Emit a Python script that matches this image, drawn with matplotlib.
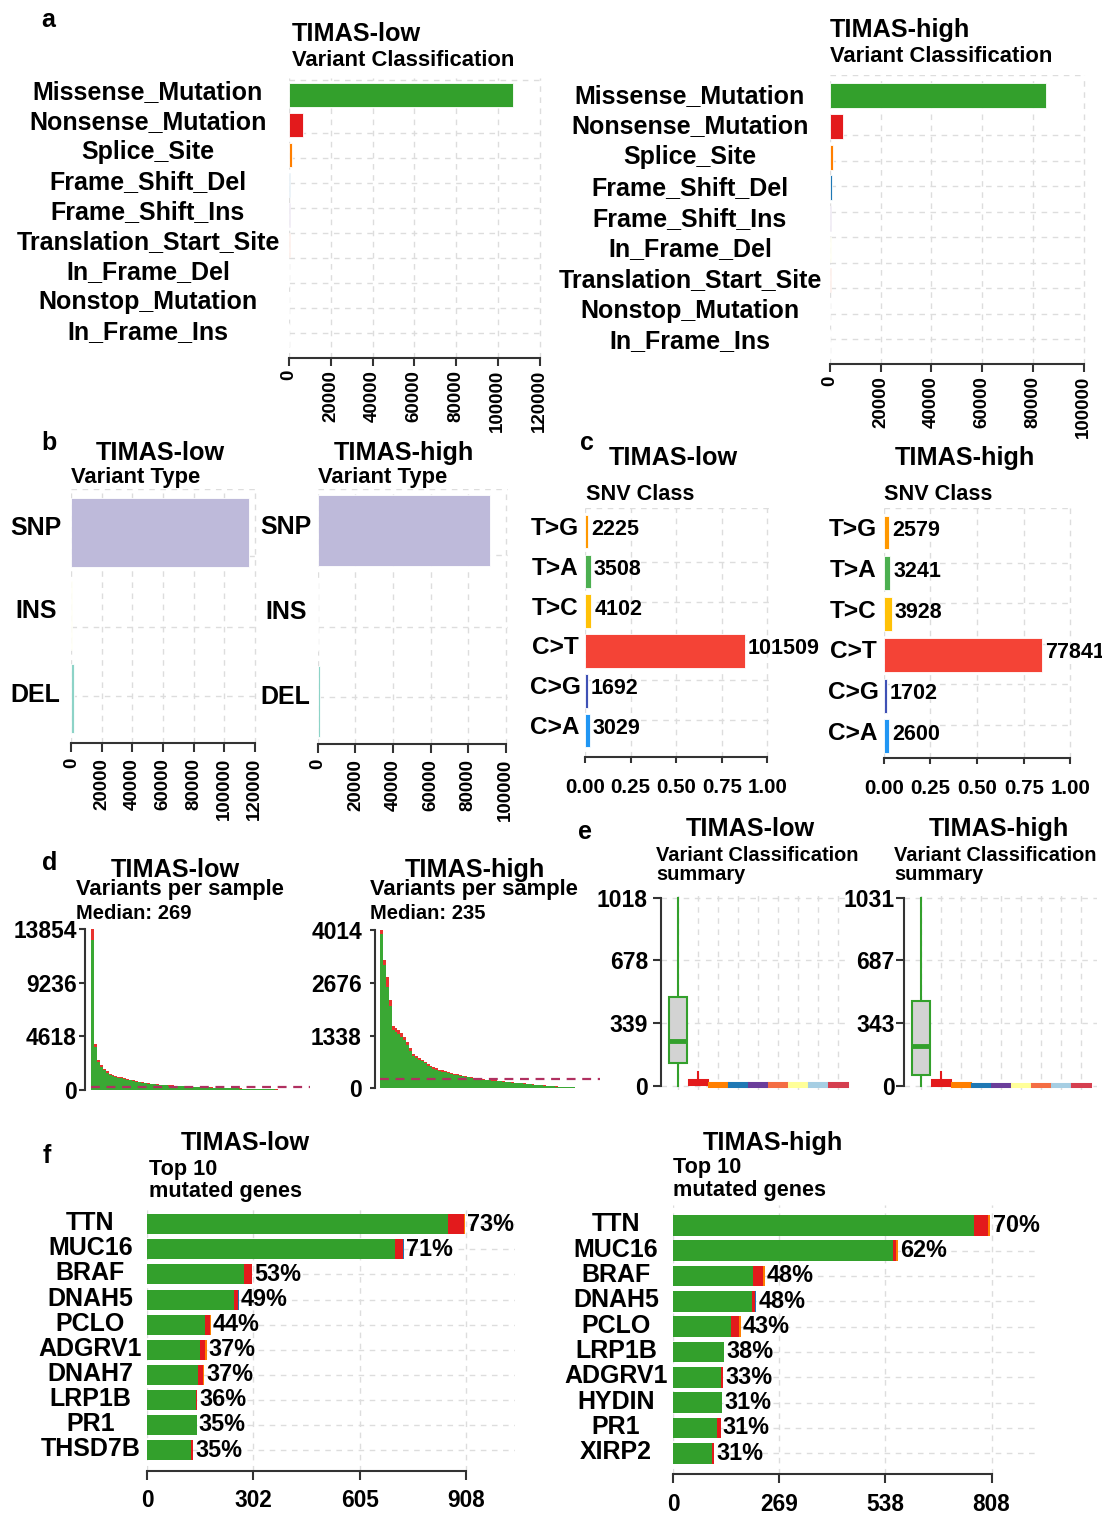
import matplotlib
matplotlib.use("Agg")
import matplotlib.pyplot as plt
import matplotlib.transforms as mtransforms
import numpy as np

plt.rcParams['font.family'] = ['Liberation Sans', 'DejaVu Sans']
plt.rcParams['font.weight'] = 'bold'

# - Data

# a: variant classification
vc_low = ["Missense_Mutation", "Nonsense_Mutation", "Splice_Site", "Frame_Shift_Del",
          "Frame_Shift_Ins", "Translation_Start_Site", "In_Frame_Del", "Nonstop_Mutation", "In_Frame_Ins"]
vc_low_counts = [107500, 6800, 1600, 700, 400, 300, 150, 80, 40]
vc_high = ["Missense_Mutation", "Nonsense_Mutation", "Splice_Site", "Frame_Shift_Del",
           "Frame_Shift_Ins", "In_Frame_Del", "Translation_Start_Site", "Nonstop_Mutation", "In_Frame_Ins"]
vc_high_counts = [85100, 5300, 1250, 600, 350, 250, 200, 90, 40]

# b: variant type
vt_types = ["SNP", "INS", "DEL"]
vt_low_counts = [116065, 300, 1400]
vt_high_counts = [91891, 300, 1300]

# c: SNV class
snv_classes = ["T>G", "T>A", "T>C", "C>T", "C>G", "C>A"]
snv_low_counts = [2225, 3508, 4102, 101509, 1692, 3029]
snv_high_counts = [2579, 3241, 3928, 77841, 1702, 2600]

# d: variants per sample (sorted), total and nonsense part
low_sample_total = [13854, 4000, 2600, 2150, 1850, 1600, 1420, 1320, 1230, 1150,
                    1080, 1000, 930, 880, 820, 760, 700, 650, 610, 580,
                    550, 520, 490, 470, 450, 430, 410, 390, 370, 355,
                    340, 325, 310, 295, 285, 275, 265, 255, 245, 235,
                    225, 215, 205, 195, 185, 178, 170, 160, 152, 145,
                    137, 128, 120, 112, 104, 96, 88, 80, 72, 64,
                    58, 52, 46, 40, 34, 0, 0, 30, 28, 26,
                    24, 22, 20, 18]
low_sample_nonsense = [900, 290, 170, 140, 120, 100, 90, 85, 80, 75,
                       70, 65, 60, 57, 53, 50, 46, 43, 40, 38,
                       36, 34, 32, 30, 29, 28, 27, 25, 24, 23,
                       22, 21, 20, 19, 18, 18, 17, 16, 16, 15,
                       14, 14, 13, 12, 12, 11, 11, 10, 10, 9,
                       9, 8, 8, 7, 7, 6, 6, 5, 5, 4,
                       4, 3, 3, 3, 2, 0, 0, 2, 2, 2,
                       1, 1, 1, 1]
high_sample_total = [4014, 3250, 2830, 2240, 1570, 1530, 1470, 1395, 1300, 1180,
                     1020, 880, 820, 765, 725, 670, 615, 570, 535, 505,
                     476, 453, 431, 408, 385, 368, 353, 338, 323, 308,
                     293, 277, 262, 250, 239, 231, 223, 216, 208, 200,
                     193, 185, 177, 170, 162, 154, 147, 139, 131, 124,
                     116, 108, 101, 94, 86, 79, 71, 65, 59, 53,
                     47, 42, 38, 34, 30, 25, 22, 19, 15, 11,
                     8, 6, 4]
high_sample_nonsense = [90, 120, 250, 150, 100, 95, 90, 85, 80, 75,
                        65, 55, 50, 47, 44, 41, 38, 35, 33, 31,
                        29, 28, 26, 25, 23, 22, 21, 20, 19, 18,
                        17, 16, 15, 15, 14, 14, 13, 13, 12, 12,
                        11, 11, 10, 10, 9, 9, 8, 8, 8, 7,
                        7, 6, 6, 5, 5, 5, 4, 4, 3, 3,
                        3, 3, 2, 2, 2, 1, 1, 1, 1, 1,
                        0, 0, 0]
median_low = 269
median_high = 235
vps_low_ticks = [0, 4618, 9236, 13854]
vps_high_ticks = [0, 1338, 2676, 4014]

# e: variant classification summary (box stats per class, same order as a)
box_low_q1 = [124, 8, 0, 0, 0, 0, 0, 0, 0]
box_low_med = [242, 18, 6, 5, 4, 4, 4, 4, 4]
box_low_q3 = [479, 33, 14, 12, 12, 12, 12, 12, 12]
box_low_hi = [1018, 72, 14, 12, 12, 12, 12, 12, 12]
box_low_lo = [0, 8, 0, 0, 0, 0, 0, 0, 0]
box_high_q1 = [58, 6, 0, 0, 0, 0, 0, 0, 0]
box_high_med = [217, 18, 6, 5, 4, 4, 4, 4, 4]
box_high_q3 = [464, 34, 14, 12, 12, 12, 12, 12, 12]
box_high_hi = [1031, 74, 14, 12, 12, 12, 12, 12, 12]
box_high_lo = [0, 6, 0, 0, 0, 0, 0, 0, 0]
box_low_ticks = [0, 339, 678, 1018]
box_high_ticks = [0, 343, 687, 1031]

# f: top 10 mutated genes
genes_low = ["TTN", "MUC16", "BRAF", "DNAH5", "PCLO", "ADGRV1", "DNAH7", "LRP1B", "PR1", "THSD7B"]
genes_low_missense = [857, 707, 276, 247, 166, 150, 146, 139, 141, 126]
genes_low_nonsense = [44, 21, 22, 12, 12, 16, 14, 4, 0, 6]
genes_low_splice = [4, 0, 2, 0, 4, 4, 2, 0, 0, 0]
genes_low_fsd = [0, 3, 0, 2, 0, 0, 0, 0, 0, 0]
genes_low_pct = [73, 71, 53, 49, 44, 37, 37, 36, 35, 35]
genes_low_ticks = [0, 302, 605, 908]
genes_high = ["TTN", "MUC16", "BRAF", "DNAH5", "PCLO", "LRP1B", "ADGRV1", "HYDIN", "PR1", "XIRP2"]
genes_high_missense = [763, 558, 203, 201, 146, 129, 121, 123, 111, 98]
genes_high_nonsense = [36, 8, 26, 7, 22, 1, 6, 1, 10, 7]
genes_high_splice = [4, 4, 3, 0, 3, 0, 0, 0, 0, 0]
genes_high_fsd = [2, 0, 0, 3, 0, 0, 0, 0, 0, 0]
genes_high_pct = [70, 62, 48, 48, 43, 38, 33, 31, 31, 31]
genes_high_ticks = [0, 269, 538, 808]

vc_colors = {"Missense_Mutation": "#33A02C", "Nonsense_Mutation": "#E31A1C", "Splice_Site": "#FF7F00",
             "Frame_Shift_Del": "#1F78B4", "Frame_Shift_Ins": "#6A3D9A", "In_Frame_Del": "#FFFF99",
             "In_Frame_Ins": "#D53E4F", "Translation_Start_Site": "#F46D43", "Nonstop_Mutation": "#A6CEE3"}
vt_colors = {"SNP": "#BEBADA", "INS": "#FFFFB3", "DEL": "#8DD3C7"}
snv_colors = {"T>G": "#FF9800", "T>A": "#4CAF50", "T>C": "#FFC107",
              "C>T": "#F44336", "C>G": "#3F51B5", "C>A": "#2196F3"}

# - Helpers

W, H = 1102, 1513
PT = 100 / 72.0
GRID = "#DDDDDD"
AXC = "#333333"

fig = plt.figure(figsize=(W / 100, H / 100), dpi=100)
fig.patch.set_facecolor("white")


def px_ax(l, t, r, b):
    return fig.add_axes([l / W, 1 - b / H, (r - l) / W, (b - t) / H])


def ftext(x, y, s, size, ha="left"):
    fig.text(x / W, 1 - y / H, s, fontsize=size, ha=ha, va="center", fontweight="bold")


def dashed(ax, vert, v):
    kw = dict(color=GRID, lw=1, ls=(0, (4, 4)), zorder=0)
    if vert:
        ax.axvline(v, **kw)
    else:
        ax.axhline(v, **kw)


def hbar_axes(zero, tick, tick_val, r, t, b, first, step):
    ax = px_ax(zero, t, r, b)
    s = (tick - zero) / tick_val
    ax.set_xlim(0, (r - zero) / s)
    ax.set_ylim((b - first) / step, (t - first) / step)
    for sp in ["top", "right", "left"]:
        ax.spines[sp].set_visible(False)
    ax.spines["bottom"].set_bounds(0, tick_val)
    ax.spines["bottom"].set_linewidth(1.5)
    ax.spines["bottom"].set_color(AXC)
    ax.set_yticks([])
    return ax


def row_labels(ax, labels, x_px, size, step, up_px=0):
    tr = mtransforms.blended_transform_factory(fig.transFigure, ax.transData)
    for i, lab in enumerate(labels):
        ax.text(x_px / W, i - up_px / step, lab, transform=tr, ha="center", va="center",
                fontsize=size, fontweight="bold", clip_on=False)


def x_ticks(ax, ticks, labels, size, length_px, pad_px, rotation=0):
    ax.set_xticks(ticks)
    ax.set_xticklabels(labels, rotation=rotation, fontsize=size, fontweight="bold")
    ax.tick_params(axis="x", length=length_px / PT, width=1.5, color=AXC, pad=pad_px / PT)


# - Panel a: variant classification

def panel_a(classes, counts, xmax, g):
    ax = hbar_axes(g["zero"], g["tick"], xmax, g["r"], g["t"], g["b"], g["first"], g["step"])
    rows = np.arange(len(classes))
    ax.barh(rows, counts, height=g["h"], color=[vc_colors[c] for c in classes],
            edgecolor="white", linewidth=0.6, zorder=2)
    ticks = np.arange(0, xmax + 1, 20000)
    for v in ticks:
        dashed(ax, True, v)
    for p in g["grid"]:
        dashed(ax, False, (p - g["first"]) / g["step"])
    x_ticks(ax, ticks, [str(v) for v in ticks], 13.5, 8, 4, rotation=90)
    row_labels(ax, classes, g["labx"], 18, g["step"], g["up"])


panel_a(vc_low, vc_low_counts, 120000,
        dict(zero=289, tick=539.5, r=542, t=78, b=358, first=95.3, step=30, h=0.8, labx=148, up=3,
             grid=[80, 133.3, 158.3, 183.3, 208.3, 233.3, 258.3, 283.3, 308.3, 333.3]))
panel_a(vc_high, vc_high_counts, 100000,
        dict(zero=830, tick=1083.6, r=1086, t=75, b=364, first=95.8, step=30.7, h=0.81, labx=690, up=0,
             grid=[75, 135, 160.7, 186, 211.7, 237.3, 262.7, 288.3, 314, 339.3]))
ftext(41.6, 20, "a", 18)
ftext(292, 34, "TIMAS-low", 18.2)
ftext(292, 61, "Variant Classification", 15.8)
ftext(830, 30, "TIMAS-high", 18.2)
ftext(830, 56, "Variant Classification", 15.8)

# - Panel b: variant type

def panel_b(counts, xmax, g):
    ax = hbar_axes(g["zero"], g["tick"], xmax, g["r"], g["t"], g["b"], g["first"], g["step"])
    rows = np.arange(len(vt_types))
    ax.barh(rows, counts, height=g["h"], color=[vt_colors[c] for c in vt_types],
            edgecolor="white", linewidth=0.6, zorder=2)
    ticks = np.arange(0, xmax + 1, 20000)
    for v in ticks:
        dashed(ax, True, v)
    for p in g["grid"]:
        dashed(ax, False, (p - g["first"]) / g["step"])
    x_ticks(ax, ticks, [str(v) for v in ticks], 13.5, 9, 6, rotation=90)
    row_labels(ax, vt_types, g["labx"], 18, g["step"], 4)


panel_b(vt_low_counts, 120000,
        dict(zero=71.4, tick=254.6, r=257, t=489, b=742.7, first=532.3, step=83.2, h=0.826, labx=35.7,
             grid=[489.3, 556, 626.7, 696]))
panel_b(vt_high_counts, 100000,
        dict(zero=317.9, tick=505.7, r=508, t=489, b=744, first=530.7, step=85.25, h=0.83, labx=285.7,
             grid=[489, 555, 626.7, 696.7]))
ftext(41.8, 442.7, "b", 18)
ftext(160.4, 453, "TIMAS-low", 18.2, ha="center")
ftext(71.4, 478, "Variant Type", 15.8)
ftext(404, 453, "TIMAS-high", 18.2, ha="center")
ftext(318, 478, "Variant Type", 15.8)

# - Panel c: SNV class

def panel_c(counts, g):
    ax = hbar_axes(g["zero"], g["tick"], 1.0, g["r"], g["t"], g["b"], g["first"], g["step"])
    rows = np.arange(len(snv_classes))
    frac = np.array(counts) / float(sum(counts))
    ax.barh(rows, frac, height=g["h"], color=[snv_colors[c] for c in snv_classes],
            edgecolor="white", linewidth=0.6, zorder=2)
    ticks = [0, 0.25, 0.5, 0.75, 1.0]
    for v in ticks:
        dashed(ax, True, v)
    for p in g["grid"]:
        dashed(ax, False, (p - g["first"]) / g["step"])
    x_ticks(ax, ticks, ["%.2f" % v for v in ticks], 14.8, 6, 15)
    row_labels(ax, snv_classes, g["labx"], 17.6, g["step"], 3)
    for i, (f, n) in enumerate(zip(frac, counts)):
        ax.annotate(str(n), (f, i - 2 / g["step"]), xytext=(2, 0), textcoords="offset points",
                    ha="left", va="center", fontsize=15.5, fontweight="bold", annotation_clip=False)


panel_c(snv_low_counts,
        dict(zero=585, tick=767.4, r=770, t=508, b=757.3, first=531.3, step=39.9, h=0.835, labx=555,
             grid=[508.3, 561.7, 601.7, 640, 680, 720]))
panel_c(snv_high_counts,
        dict(zero=883.8, tick=1070.4, r=1073, t=508, b=758.3, first=532.5, step=40.76, h=0.834, labx=853,
             grid=[508.3, 562.5, 603, 643.5, 684, 725]))
ftext(580, 443, "c", 18)
ftext(673.8, 458, "TIMAS-low", 18.2, ha="center")
ftext(586, 494.5, "SNV Class", 15.6)
ftext(964.5, 458, "TIMAS-high", 18.2, ha="center")
ftext(883.8, 494.5, "SNV Class", 15.6)

# - Panel d: variants per sample

def panel_d(total, nonsense, median, ticks, g):
    n = len(total)
    ax = px_ax(g["axis"], g["top"] - 3, g["r"], g["zero"])
    pb = (g["bars_r"] - g["bars_l"]) / float(n)
    ax.set_xlim(-0.5 - (g["bars_l"] - g["axis"]) / pb, -0.5 + (g["r"] - g["bars_l"]) / pb)
    s = (g["zero"] - g["top"]) / float(ticks[-1])
    ax.set_ylim(0, (g["zero"] - g["top"] + 3) / s)
    x = np.arange(n)
    green = np.array(total) - np.array(nonsense)
    ax.bar(x, green, width=1.0, color="#3AA834", linewidth=0, zorder=2)
    ax.bar(x, nonsense, bottom=green, width=1.0, color="#E8332E", linewidth=0, zorder=2)
    xend = -0.5 + (g["med_r"] - g["bars_l"]) / pb
    ax.plot([-0.5, xend], [median, median], color="#B03060", lw=1.6, ls=(0, (4, 3)), zorder=3)
    for sp in ["top", "right", "bottom"]:
        ax.spines[sp].set_visible(False)
    ax.spines["left"].set_bounds(0, ticks[-1])
    ax.spines["left"].set_linewidth(1.5)
    ax.spines["left"].set_color(AXC)
    ax.set_xticks([])
    ax.set_yticks(ticks)
    ax.set_yticklabels([str(v) for v in ticks], fontsize=16.4, fontweight="bold")
    ax.tick_params(axis="y", length=g["tl"] / PT, width=1.5, color=AXC, pad=g["pad"] / PT)


panel_d(low_sample_total, low_sample_nonsense, median_low, vps_low_ticks,
        dict(axis=85, r=312, top=929.3, zero=1090, bars_l=90.7, bars_r=310.7, med_r=309.6, tl=6, pad=2))
panel_d(high_sample_total, high_sample_nonsense, median_high, vps_high_ticks,
        dict(axis=375, r=600, top=930, zero=1088.3, bars_l=380, bars_r=592.7, med_r=600, tl=5, pad=8))
ftext(42, 863, "d", 18)
ftext(175.8, 870, "TIMAS-low", 18.2, ha="center")
ftext(75.8, 890, "Variants per sample", 15.8)
ftext(75.8, 913.3, "Median: %d" % median_low, 14.5)
ftext(474.6, 870, "TIMAS-high", 18.2, ha="center")
ftext(370, 890, "Variants per sample", 15.8)
ftext(370, 913.3, "Median: %d" % median_high, 14.5)

# - Panel e: variant classification summary

def panel_e(classes, q1, med, q3, hi, lo, ticks, g):
    top, bot = 891, 1090
    ax = px_ax(g["axis"], top, g["r"], bot)
    n = len(classes)
    pos = np.arange(1, n + 1)
    step = 20.0
    ax.set_xlim(1 - (g["first"] - g["axis"]) / step, 1 + (g["r"] - g["first"]) / step)
    s = (g["zero"] - g["top"]) / float(ticks[-1])
    ax.set_ylim(-(bot - g["zero"]) / s, (g["zero"] - top) / s)
    for p in pos:
        dashed(ax, True, p)
    for v in ticks:
        dashed(ax, False, v)
    stats = [dict(med=med[i], q1=q1[i], q3=q3[i], whislo=lo[i], whishi=hi[i]) for i in range(n)]
    bp = ax.bxp(stats, positions=pos, widths=0.86, patch_artist=True, showfliers=False,
                showcaps=False, manage_ticks=False)
    for i, c in enumerate(classes):
        col = vc_colors[c]
        if i == 0:
            bp["boxes"][i].set(facecolor="#D3D3D3", edgecolor=col, linewidth=1.5, zorder=3)
            bp["medians"][i].set(color=col, linewidth=3.5, zorder=4)
        else:
            bp["boxes"][i].set(facecolor=col, edgecolor=col, linewidth=2.2, zorder=3)
            bp["medians"][i].set(color=col, linewidth=2.2, zorder=4)
        for w in bp["whiskers"][2 * i:2 * i + 2]:
            w.set(color=col, linewidth=1.5, zorder=2)
    for sp in ["top", "right", "bottom"]:
        ax.spines[sp].set_visible(False)
    ax.spines["left"].set_bounds(0, ticks[-1])
    ax.spines["left"].set_linewidth(1.5)
    ax.spines["left"].set_color(AXC)
    ax.set_xticks([])
    ax.set_yticks(ticks)
    ax.set_yticklabels([str(v) for v in ticks], fontsize=16.5, fontweight="bold")
    ax.tick_params(axis="y", length=8 / PT, width=1.5, color=AXC, pad=g["pad"] / PT)


panel_e(vc_low, box_low_q1, box_low_med, box_low_q3, box_low_hi, box_low_lo, box_low_ticks,
        dict(axis=661, first=678, r=850, top=897.7, zero=1085.7, pad=5))
panel_e(vc_high, box_high_q1, box_high_med, box_high_q3, box_high_hi, box_high_lo, box_high_ticks,
        dict(axis=904, first=921, r=1097, top=897.7, zero=1085.7, pad=1.5))
ftext(578, 832, "e", 18)
ftext(750.5, 829, "TIMAS-low", 18.2, ha="center")
ftext(656, 855.5, "Variant Classification", 14.4)
ftext(656, 874.5, "summary", 14.4)
ftext(999, 829, "TIMAS-high", 18.2, ha="center")
ftext(894, 855.5, "Variant Classification", 14.4)
ftext(894, 874.5, "summary", 14.4)

# - Panel f: top 10 mutated genes

def panel_f(genes, parts, pct, ticks, g):
    ax = hbar_axes(g["zero"], g["tick"], ticks[-1], g["r"], g["t"], g["b"], g["first"], g["step"])
    rows = np.arange(len(genes))
    for v in ticks:
        dashed(ax, True, v)
    for r in rows:
        dashed(ax, False, r)
    left = np.zeros(len(genes))
    for cls, vals in parts:
        ax.barh(rows, vals, left=left, height=g["h"], color=vc_colors[cls], linewidth=0, zorder=2)
        left = left + np.array(vals)
    for i, p in enumerate(pct):
        ax.annotate("%d%%" % p, (left[i], i), xytext=(1.5, 0), textcoords="offset points",
                    ha="left", va="center", fontsize=16.8, fontweight="bold", annotation_clip=False)
    x_ticks(ax, ticks, [str(v) for v in ticks], 16.3, 9.3, 9)
    row_labels(ax, genes, g["labx"], 18, g["step"], 1)


panel_f(genes_low, [("Missense_Mutation", genes_low_missense), ("Nonsense_Mutation", genes_low_nonsense),
                    ("Splice_Site", genes_low_splice), ("Frame_Shift_Del", genes_low_fsd)],
        genes_low_pct, genes_low_ticks,
        dict(zero=147, tick=466.1, r=515, t=1205, b=1470.7, first=1224.3, step=25.08, h=0.8, labx=90.4))
panel_f(genes_high, [("Missense_Mutation", genes_high_missense), ("Nonsense_Mutation", genes_high_nonsense),
                     ("Splice_Site", genes_high_splice), ("Frame_Shift_Del", genes_high_fsd)],
        genes_high_pct, genes_high_ticks,
        dict(zero=673.1, tick=991.6, r=1040, t=1205, b=1474.3, first=1225.3, step=25.33, h=0.82, labx=616))
ftext(43, 1156, "f", 18)
ftext(245.8, 1143, "TIMAS-low", 18.2, ha="center")
ftext(148.8, 1169, "Top 10", 15.6)
ftext(148.8, 1192, "mutated genes", 15.6)
ftext(772.5, 1143, "TIMAS-high", 18.2, ha="center")
ftext(673, 1167, "Top 10", 15.6)
ftext(673, 1190.5, "mutated genes", 15.6)

fig.savefig("out.png", dpi=100, facecolor="white")
